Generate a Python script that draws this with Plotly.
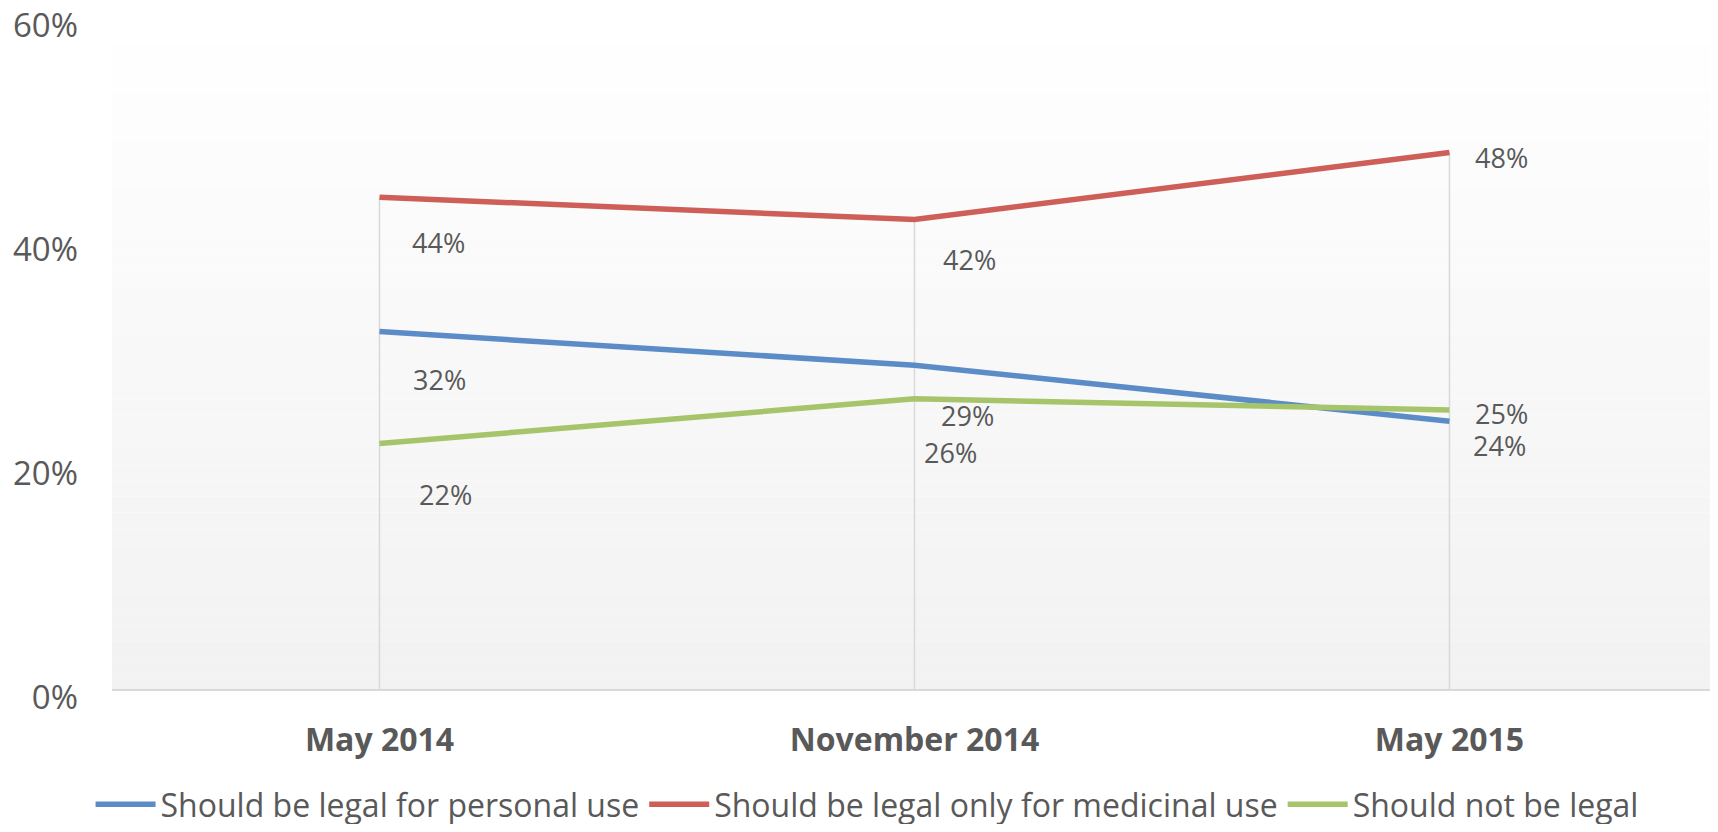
import plotly.graph_objects as go

# data
surveys = ["May 2014", "November 2014", "May 2015"]
personal_use = [32, 29, 24]
medicinal_only = [44, 42, 48]
not_legal = [22, 26, 25]

names = ["Should be legal for personal use",
         "Should be legal only for medicinal use",
         "Should not be legal"]
colors = ["#5B8CC8", "#CD5F58", "#A6C46A"]
series = [personal_use, medicinal_only, not_legal]

# label offsets in px (right, down) - Excel had them hand placed
label_offsets = [
    [(60, 48), (53, 50), (50, 24)],
    [(59, 45), (55, 40), (52, 5)],
    [(66, 51), (36, 54), (52, 3)],
]

txt = "#595959"
font = "Open Sans"

fig = go.Figure()

# drop lines from top series down to the axis
dx, dy = [], []
for i, s in enumerate(surveys):
    top = max(personal_use[i], medicinal_only[i], not_legal[i])
    dx += [s, s, None]
    dy += [0, top, None]
fig.add_trace(go.Scatter(x=dx, y=dy, mode="lines", line=dict(color="#D9D9D9", width=1.5),
                         showlegend=False, hoverinfo="skip"))

for name, col, vals in zip(names, colors, series):
    fig.add_trace(go.Scatter(x=surveys, y=vals, name=name, mode="lines",
                             line=dict(color=col, width=5.5)))

annots = []
for vals, offs in zip(series, label_offsets):
    for s, v, (ox, oy) in zip(surveys, vals, offs):
        annots.append(dict(x=s, y=v, text=f"{v}%", showarrow=False, xshift=ox, yshift=-oy,
                           font=dict(family=font, size=27, color=txt)))

# gradient plot background (white -> light grey)
shapes = []
n = 40
top = 0.96
for k in range(n):
    y0 = top * k / n
    y1 = top * (k + 1) / n
    g = int(242 + 13 * (k + 0.5) / n)
    shapes.append(dict(type="rect", xref="paper", yref="paper", x0=0, x1=1, y0=y0, y1=y1,
                       fillcolor=f"rgb({g},{g},{g})", line=dict(width=0), layer="below"))

# page body has an 8px margin, so the figure is sized to fit inside it
fig.update_layout(
    width=1702, height=816,
    margin=dict(l=104, r=0, t=10, b=134),
    paper_bgcolor="white", plot_bgcolor="white",
    font=dict(family=font, color=txt),
    annotations=annots,
    shapes=shapes,
    showlegend=True,
    legend=dict(orientation="h", xref="paper", x=0.4725, xanchor="center",
                yref="container", y=0.024, yanchor="middle",
                font=dict(family=font, size=32, color=txt), itemwidth=60,
                bgcolor="rgba(0,0,0,0)"),
    xaxis=dict(type="category", range=[-0.5, 2.487], showgrid=False, zeroline=False,
               showline=False, ticks="", ticklabelstandoff=28, automargin=False,
               tickfont=dict(family=font, size=32, color=txt, weight="bold")),
    yaxis=dict(range=[0, 60], dtick=20, ticksuffix="%", showgrid=False, zeroline=True,
               zerolinecolor="#D9D9D9", zerolinewidth=2, showline=False,
               ticklabelstandoff=33, ticklabelshift=7, ticklabeloverflow="allow",
               automargin=False,
               tickfont=dict(family=font, size=33, color=txt)),
)

fig.write_html("out.html")
